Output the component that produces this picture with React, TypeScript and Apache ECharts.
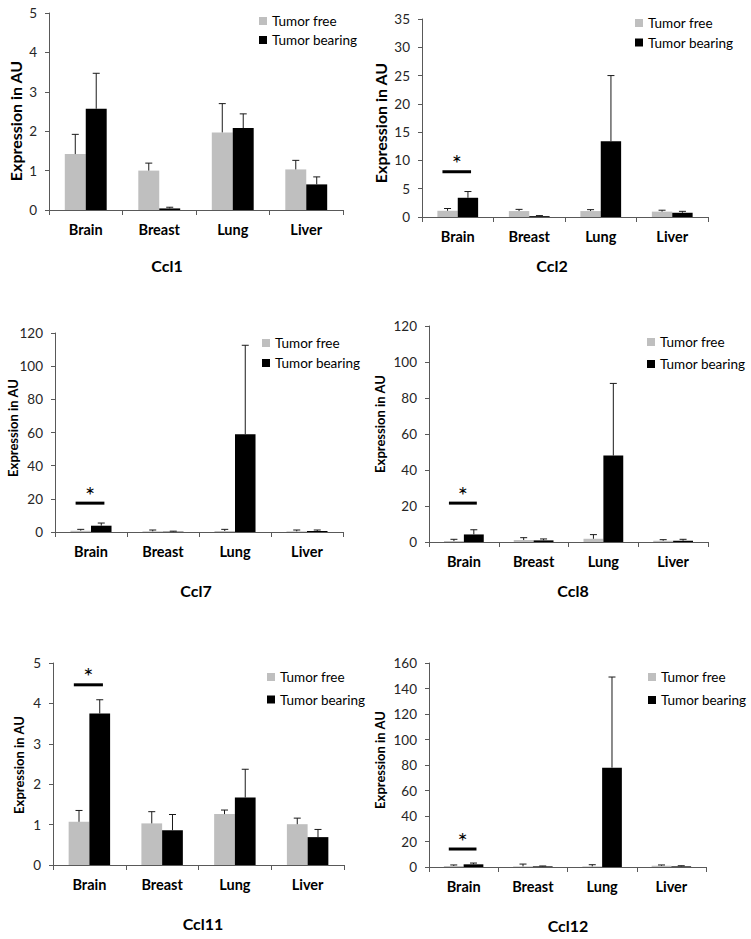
import React, { useEffect, useRef } from "react";
import * as echarts from "echarts";

const CATEGORIES = ["Brain", "Breast", "Lung", "Liver"];
const SERIES_NAMES = ["Tumor free", "Tumor bearing"];
const PANEL_TITLES = ["Ccl1", "Ccl2", "Ccl7", "Ccl8", "Ccl11", "Ccl12"];
const Y_AXIS_NAME = "Expression in AU";

// mean values and upward error (SD) per panel
const CCL1_FREE = [1.42, 1.0, 1.97, 1.03];
const CCL1_FREE_SD = [0.5, 0.19, 0.73, 0.23];
const CCL1_BEAR = [2.57, 0.04, 2.08, 0.65];
const CCL1_BEAR_SD = [0.9, 0.03, 0.36, 0.19];

const CCL2_FREE = [1.1, 1.05, 1.05, 0.95];
const CCL2_FREE_SD = [0.4, 0.3, 0.25, 0.25];
const CCL2_BEAR = [3.4, 0.15, 13.4, 0.75];
const CCL2_BEAR_SD = [1.1, 0.1, 11.6, 0.25];

const CCL7_FREE = [0.8, 0.4, 0.6, 0.4];
const CCL7_FREE_SD = [0.8, 0.8, 1.0, 0.8];
const CCL7_BEAR = [3.8, 0.2, 58.9, 0.6];
const CCL7_BEAR_SD = [1.6, 0.3, 53.7, 0.6];

const CCL8_FREE = [0.5, 1.1, 1.8, 0.7];
const CCL8_FREE_SD = [1.0, 1.3, 2.3, 0.6];
const CCL8_BEAR = [4.2, 0.9, 48.0, 0.7];
const CCL8_BEAR_SD = [2.6, 0.8, 40.1, 0.8];

const CCL11_FREE = [1.07, 1.03, 1.26, 1.01];
const CCL11_FREE_SD = [0.28, 0.29, 0.1, 0.15];
const CCL11_BEAR = [3.75, 0.86, 1.67, 0.69];
const CCL11_BEAR_SD = [0.34, 0.39, 0.7, 0.19];

const CCL12_FREE = [0.8, 0.5, 0.5, 1.0];
const CCL12_FREE_SD = [0.8, 1.8, 1.3, 0.6];
const CCL12_BEAR = [2.1, 0.5, 77.9, 0.5];
const CCL12_BEAR_SD = [1.0, 0.3, 71.1, 0.5];

const Y_MAX = [5, 35, 120, 120, 5, 160];
const Y_INTERVAL = [1, 5, 20, 20, 1, 20];
// significance bar level (Brain) per panel, null = none
const SIG_LEVEL = [null, 8, 17.4, 21.6, 4.46, 14.1];

const FREE = [CCL1_FREE, CCL2_FREE, CCL7_FREE, CCL8_FREE, CCL11_FREE, CCL12_FREE];
const FREE_SD = [CCL1_FREE_SD, CCL2_FREE_SD, CCL7_FREE_SD, CCL8_FREE_SD, CCL11_FREE_SD, CCL12_FREE_SD];
const BEAR = [CCL1_BEAR, CCL2_BEAR, CCL7_BEAR, CCL8_BEAR, CCL11_BEAR, CCL12_BEAR];
const BEAR_SD = [CCL1_BEAR_SD, CCL2_BEAR_SD, CCL7_BEAR_SD, CCL8_BEAR_SD, CCL11_BEAR_SD, CCL12_BEAR_SD];

// layout (pixels)
const GRIDS = [
  { left: 49, top: 13, width: 294, height: 197 },
  { left: 422, top: 19, width: 286, height: 198 },
  { left: 55, top: 333, width: 288, height: 199 },
  { left: 429, top: 326, width: 279, height: 216 },
  { left: 53, top: 663, width: 291, height: 202 },
  { left: 429, top: 663, width: 277, height: 204 },
];
const LEGENDS = [
  { x: 259, y: 21, step: 19 },
  { x: 635, y: 23, step: 19.5 },
  { x: 262, y: 343, step: 20 },
  { x: 647, y: 342, step: 22 },
  { x: 267, y: 677, step: 22.5 },
  { x: 648, y: 677, step: 23 },
];
const TITLE_POS = [
  [167, 265], [552, 265], [196, 590], [573, 590], [203, 923], [568, 925],
];
const YNAME_POS = [
  [15, 121, 16], [380, 123, 16], [13, 428, 13], [380, 424, 13], [19, 765, 13], [380, 760, 13],
];

const FONT = "Lato, 'Open Sans', sans-serif";
const GAP_FRAC = 0.43;
const AXIS_COLOR = "#595959";
const GRAY = "#bfbfbf";

export default function App() {
  const ref = useRef<HTMLDivElement>(null);

  useEffect(() => {
    document.body.style.margin = "0";
    if (!ref.current) return;
    const chart = echarts.init(ref.current, null, { renderer: "svg" });

    const grid: any[] = [];
    const xAxis: any[] = [];
    const yAxis: any[] = [];
    const legend: any[] = [];
    const series: any[] = [];
    const graphic: any[] = [];

    for (let p = 0; p < 6; p++) {
      grid.push({ ...GRIDS[p], containLabel: false });
      xAxis.push({
        type: "category",
        gridIndex: p,
        data: CATEGORIES,
        axisLine: { show: true, lineStyle: { color: AXIS_COLOR, width: 1 } },
        axisTick: { show: true, length: 5, interval: 0, lineStyle: { color: AXIS_COLOR } },
        axisLabel: {
          fontFamily: FONT,
          fontWeight: "bold",
          fontSize: 14.5,
          color: "#000",
          margin: 12,
          interval: 0,
        },
      });
      yAxis.push({
        type: "value",
        gridIndex: p,
        min: 0,
        max: Y_MAX[p],
        interval: Y_INTERVAL[p],
        splitLine: { show: false },
        axisLine: { show: true, lineStyle: { color: AXIS_COLOR, width: 1 } },
        axisTick: { show: true, length: 4, lineStyle: { color: AXIS_COLOR } },
        axisLabel: { fontFamily: FONT, fontSize: 13.5, color: "#262626", margin: 12 },
      });
      const L = LEGENDS[p];
      legend.push({
        orient: "vertical",
        left: L.x,
        top: L.y - 7,
        padding: 0,
        itemWidth: 8,
        itemHeight: 8,
        itemGap: L.step - 14,
        icon: "rect",
        data: SERIES_NAMES,
        textStyle: { fontFamily: FONT, fontSize: 13.5, color: "#000", lineHeight: 14 },
      });

      const vals = [FREE[p], BEAR[p]];
      const sds = [FREE_SD[p], BEAR_SD[p]];
      for (let s = 0; s < 2; s++) {
        series.push({
          type: "bar",
          name: SERIES_NAMES[s],
          xAxisIndex: p,
          yAxisIndex: p,
          data: vals[s],
          barGap: "0%",
          barCategoryGap: GAP_FRAC * 100 + "%",
          itemStyle: { color: s === 0 ? GRAY : "#000" },
          z: 2,
        });
      }
      for (let s = 0; s < 2; s++) {
        series.push({
          type: "custom",
          name: "err" + p + "_" + s,
          xAxisIndex: p,
          yAxisIndex: p,
          z: 3,
          encode: { x: 0, y: [1, 2] },
          data: CATEGORIES.map((_, j) => [j, vals[s][j], vals[s][j] + sds[s][j], s]),
          renderItem: (params: any, api: any) => {
            const j = api.value(0);
            const base = api.coord([j, api.value(1)]);
            const top = api.coord([j, api.value(2)]);
            const band = api.size([1, 0])[0];
            const bw = (band * (1 - GAP_FRAC)) / 2;
            const x = base[0] + (api.value(3) === 0 ? -bw / 2 : bw / 2);
            const cap = 7;
            const st = { stroke: "#1a1a1a", lineWidth: 1 };
            return {
              type: "group",
              children: [
                { type: "line", shape: { x1: x, y1: base[1], x2: x, y2: top[1] }, style: st },
                { type: "line", shape: { x1: x - cap / 2, y1: top[1], x2: x + cap / 2, y2: top[1] }, style: st },
              ],
            };
          },
        });
      }
      if (SIG_LEVEL[p] != null) {
        series.push({
          type: "custom",
          name: "sig" + p,
          xAxisIndex: p,
          yAxisIndex: p,
          z: 4,
          encode: { x: 0, y: 1 },
          data: [[0, SIG_LEVEL[p]]],
          renderItem: (params: any, api: any) => {
            const c = api.coord([api.value(0), api.value(1)]);
            const band = api.size([1, 0])[0];
            const hw = band * 0.2;
            const cx = c[0] - 1;
            return {
              type: "group",
              children: [
                {
                  type: "line",
                  shape: { x1: cx - hw, y1: c[1], x2: cx + hw, y2: c[1] },
                  style: { stroke: "#000", lineWidth: 3 },
                },
                {
                  type: "text",
                  x: cx,
                  y: c[1] + 3,
                  style: {
                    text: "*",
                    fontFamily: FONT,
                    fontSize: 24,
                    fontWeight: "normal",
                    fill: "#000",
                    align: "center",
                    verticalAlign: "bottom",
                  },
                },
              ],
            };
          },
        });
      }

      graphic.push({
        type: "text",
        x: TITLE_POS[p][0],
        y: TITLE_POS[p][1],
        style: {
          text: PANEL_TITLES[p],
          fontFamily: FONT,
          fontSize: 16,
          fontWeight: "bold",
          fill: "#000",
          align: "center",
          verticalAlign: "middle",
        },
      });
      graphic.push({
        type: "text",
        x: YNAME_POS[p][0],
        y: YNAME_POS[p][1],
        rotation: Math.PI / 2,
        style: {
          text: Y_AXIS_NAME,
          fontFamily: FONT,
          fontSize: YNAME_POS[p][2],
          fontWeight: "bold",
          fill: "#000",
          align: "center",
          verticalAlign: "middle",
        },
      });
    }

    chart.setOption({
      animation: false,
      backgroundColor: "#fff",
      grid,
      xAxis,
      yAxis,
      legend,
      series,
      graphic,
    });
    return () => chart.dispose();
  }, []);

  return <div ref={ref} style={{ width: 751, height: 939 }} />;
}
